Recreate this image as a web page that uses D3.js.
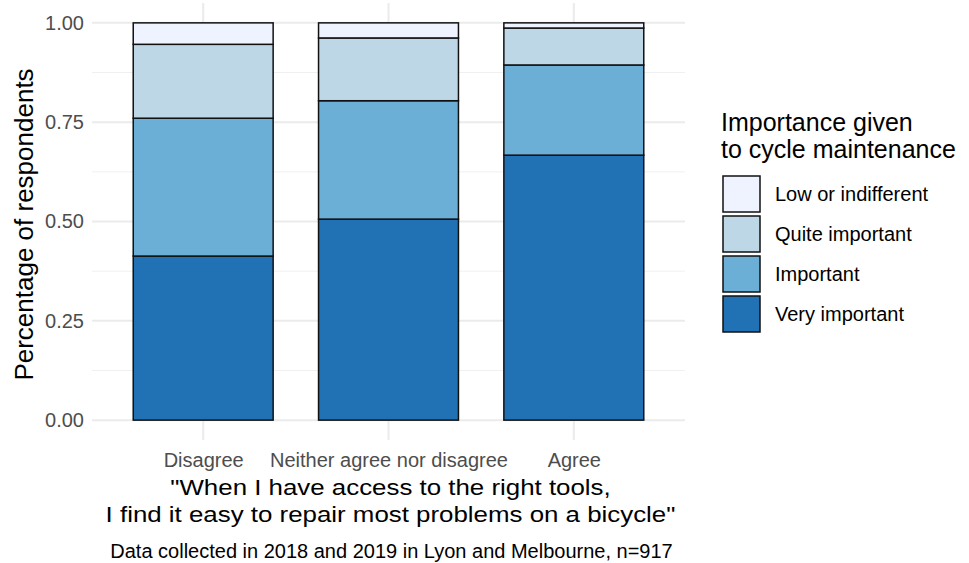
<!DOCTYPE html>
<html>
<head>
<meta charset="utf-8">
<script src="https://cdn.jsdelivr.net/npm/d3@7"></script>
<style>
  html, body { margin: 0; padding: 0; background: #ffffff; }
  svg { display: block; font-family: "Liberation Sans", Arial, sans-serif; }
</style>
</head>
<body>
<svg id="chart" width="969" height="563"></svg>
<script>
// ---- data ----
const categories = ["Disagree", "Neither agree nor disagree", "Agree"];
const levels = ["Very important", "Important", "Quite important", "Low or indifferent"]; // stacking order, bottom to top
const veryImportant = [0.413, 0.506, 0.667];
const important     = [0.347, 0.298, 0.227];
const quiteImportant = [0.186, 0.158, 0.093];
const lowIndifferent = [0.054, 0.038, 0.013];
const yTicks = [0, 0.25, 0.5, 0.75, 1];
const yMinorTicks = [0.125, 0.375, 0.625, 0.875];
const legendOrder = ["Low or indifferent", "Quite important", "Important", "Very important"];
const palette = ["#2171b5", "#6baed6", "#bdd7e7", "#eff3ff"];
const yTitle = "Percentage of respondents";
const xTitleLines = ["\"When I have access to the right tools,", "I find it easy to repair most problems on a bicycle\""];
const caption = "Data collected in 2018 and 2019 in Lyon and Melbourne, n=917";
const legendTitleLines = ["Importance given", "to cycle maintenance"];

// ---- table ----
const seriesValues = [veryImportant, important, quiteImportant, lowIndifferent];
const rows = categories.map((c, i) => {
  const r = { category: c };
  levels.forEach((l, j) => r[l] = seriesValues[j][i]);
  return r;
});
const stacked = d3.stack().keys(levels)(rows);

// ---- layout ----
const svg = d3.select("#chart");
const panel = { left: 92, right: 685, top: 3, bottom: 440 };

const x = d3.scalePoint().domain(categories).range([panel.left, panel.right]).padding(0.6);
const barW = x.step() * 0.755;
const y = d3.scaleLinear().domain([-0.05, 1.05]).range([panel.bottom, panel.top]);
const color = d3.scaleOrdinal().domain(levels).range(palette);

// grid
const grid = svg.append("g");
grid.selectAll("line.minor").data(yMinorTicks).join("line")
  .attr("x1", panel.left).attr("x2", panel.right)
  .attr("y1", d => y(d)).attr("y2", d => y(d))
  .attr("stroke", "#f0f0f0").attr("stroke-width", 1);
grid.selectAll("line.major").data(yTicks).join("line")
  .attr("x1", panel.left).attr("x2", panel.right)
  .attr("y1", d => y(d)).attr("y2", d => y(d))
  .attr("stroke", "#ebebeb").attr("stroke-width", 2);
grid.selectAll("line.vmajor").data(categories).join("line")
  .attr("x1", d => x(d)).attr("x2", d => x(d))
  .attr("y1", panel.top).attr("y2", panel.bottom)
  .attr("stroke", "#ebebeb").attr("stroke-width", 2);

// bars
svg.append("g").selectAll("g").data(stacked).join("g")
  .attr("fill", d => color(d.key))
  .selectAll("rect").data(d => d).join("rect")
  .attr("x", d => x(d.data.category) - barW / 2)
  .attr("width", barW)
  .attr("y", d => y(d[1]))
  .attr("height", d => y(d[0]) - y(d[1]))
  .attr("stroke", "#111")
  .attr("stroke-width", 1.5);

// y axis
const yAxis = svg.append("g").attr("transform", `translate(${panel.left - 8},0)`)
  .call(d3.axisLeft(y).tickValues(yTicks).tickFormat(d3.format(".2f")).tickSize(0).tickPadding(0));
yAxis.select(".domain").remove();
yAxis.selectAll("text").attr("font-size", 20).attr("fill", "#4d4d4d")
  .attr("font-family", "'Liberation Sans', Arial, sans-serif");

// x axis
const xAxis = svg.append("g").attr("transform", `translate(0,${panel.bottom + 13})`)
  .call(d3.axisBottom(x).tickSize(0).tickPadding(0));
xAxis.select(".domain").remove();
xAxis.selectAll("text").attr("font-size", 20).attr("fill", "#4d4d4d")
  .attr("font-family", "'Liberation Sans', Arial, sans-serif");

// axis titles
const midX = (panel.left + panel.right) / 2;
svg.append("text")
  .attr("transform", `translate(33,${(panel.top + panel.bottom) / 2 + 3}) rotate(-90)`)
  .attr("text-anchor", "middle").attr("font-size", 26).attr("fill", "#000")
  .text(yTitle);
svg.append("g").selectAll("text").data(xTitleLines).join("text")
  .attr("transform", (d, i) => `translate(${midX + 2},${495 + i * 27}) scale(1.15,1)`)
  .attr("text-anchor", "middle").attr("font-size", 22.5).attr("fill", "#000")
  .text(d => d);
svg.append("text")
  .attr("x", midX + 3).attr("y", 558)
  .attr("text-anchor", "middle").attr("font-size", 20).attr("fill", "#000")
  .text(caption);

// legend
const legend = svg.append("g");
legend.selectAll("text.title").data(legendTitleLines).join("text")
  .attr("x", 721).attr("y", (d, i) => 131 + i * 27)
  .attr("font-size", 25).attr("fill", "#000")
  .text(d => d);
const keys = legend.selectAll("g.key").data(legendOrder).join("g")
  .attr("transform", (d, i) => `translate(723,${176 + i * 40})`);
keys.append("rect").attr("width", 37).attr("height", 36)
  .attr("fill", d => color(d)).attr("stroke", "#111").attr("stroke-width", 1.5);
keys.append("text").attr("x", 52).attr("y", 18).attr("dy", "0.35em")
  .attr("font-size", 20).attr("fill", "#000")
  .text(d => d);
</script>
</body>
</html>
